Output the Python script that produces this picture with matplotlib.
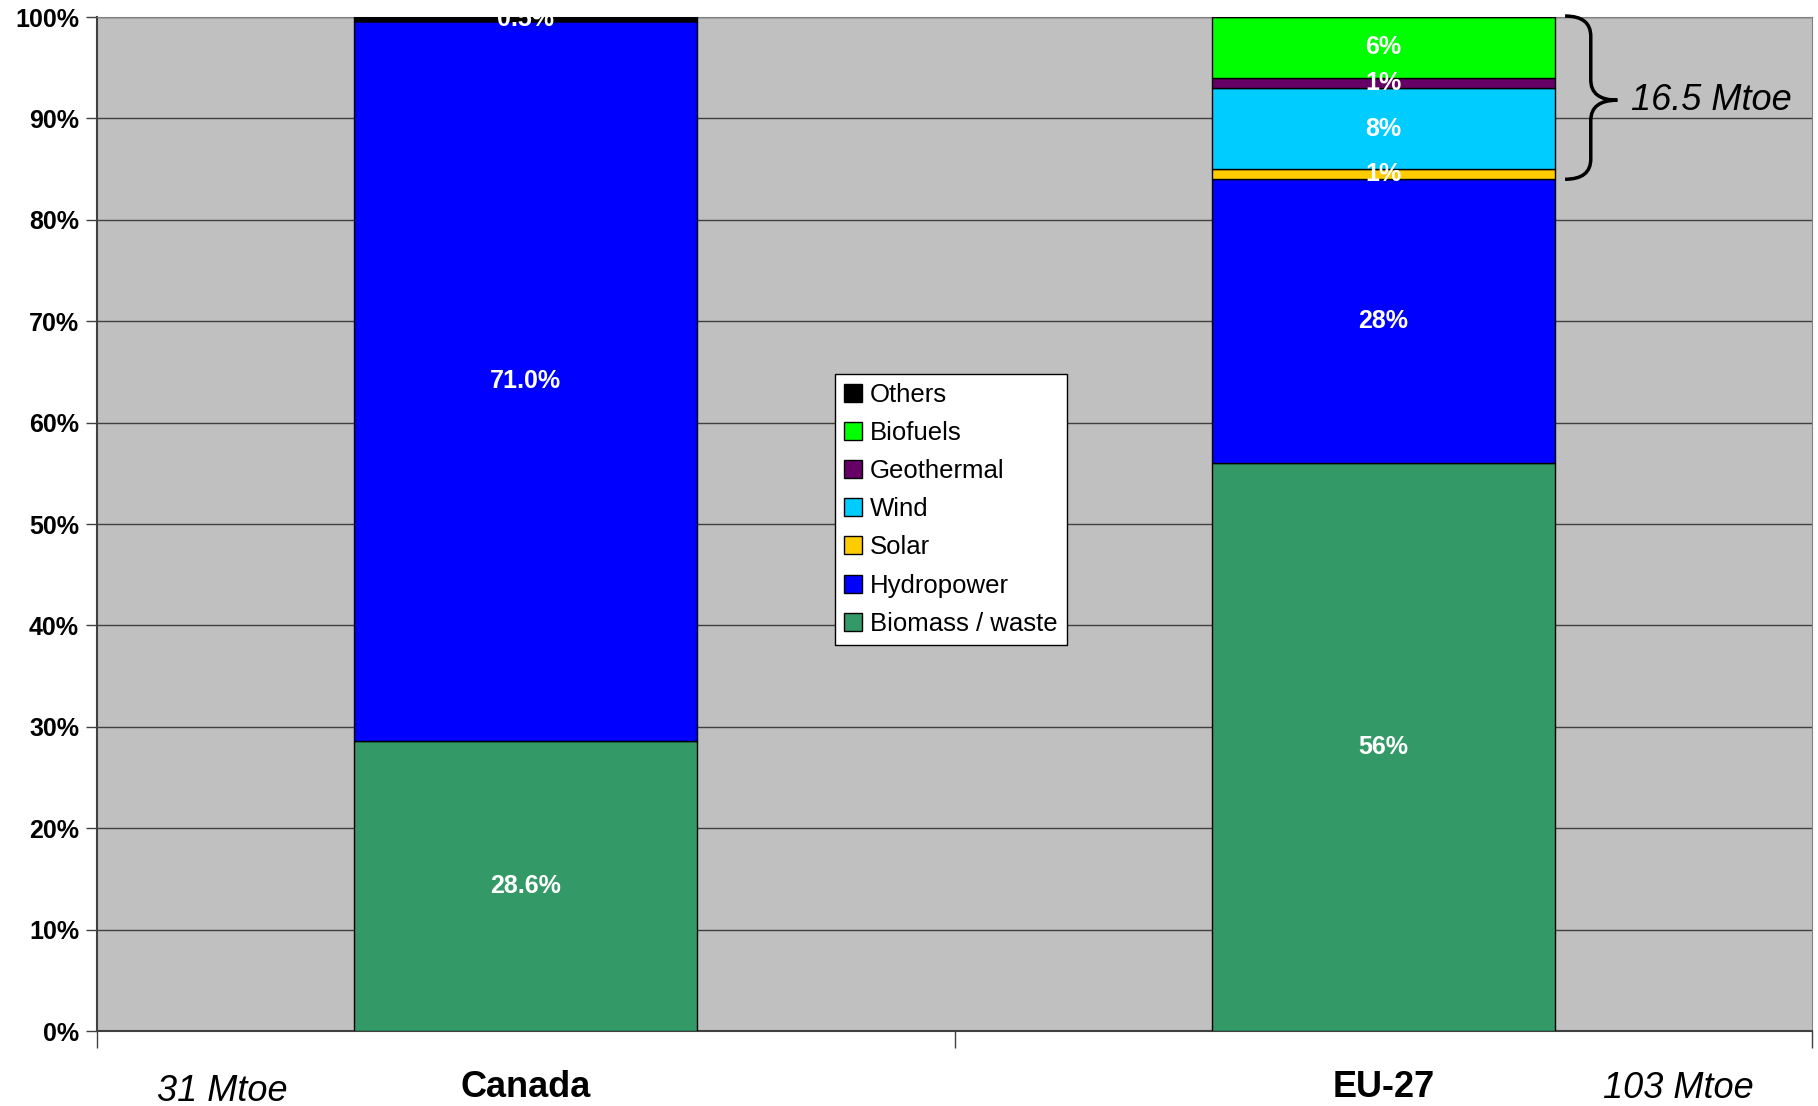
import matplotlib
matplotlib.use("Agg")
import matplotlib.pyplot as plt
from matplotlib.path import Path
from matplotlib.patches import PathPatch
import matplotlib.transforms as mtransforms

plt.rcParams['font.family'] = ['Liberation Sans', 'DejaVu Sans']

# Share of renewable primary energy by source (%)
regions = ['Canada', 'EU-27']
totals = ['31 Mtoe', '103 Mtoe']
sources = ['Biomass / waste', 'Hydropower', 'Solar', 'Wind', 'Geothermal', 'Biofuels', 'Others']
canada = [28.6, 71.0, 0, 0, 0, 0, 0.5]
eu27 = [56, 28, 1, 8, 1, 6, 0]
colors = ['#339966', '#0000FF', '#FFCC00', '#00CCFF', '#660066', '#00FF00', '#000000']
new_renew = '16.5 Mtoe'

fig = plt.figure(figsize=(18.18, 11.06), dpi=100)
ax = fig.add_axes([0.0534, 0.0678, 0.9433, 0.9168])
ax.set_facecolor('#C0C0C0')

x = [0, 1]
bottoms = [0, 0]
for i, src in enumerate(sources):
    vals = [canada[i], eu27[i]]
    ax.bar(x, vals, 0.4, bottom=bottoms, color=colors[i],
           edgecolor='black', linewidth=1, label=src, zorder=3)
    for j, v in enumerate(vals):
        if v > 0:
            txt = '{:.1f}%'.format(v) if j == 0 else '{:.0f}%'.format(v)
            ax.text(x[j], bottoms[j] + v / 2, txt, ha='center', va='center',
                    color='white', fontsize=18, fontweight='bold', zorder=5,
                    clip_on=True)
    bottoms = [bottoms[0] + vals[0], bottoms[1] + vals[1]]

ax.set_xlim(-0.5, 1.5)
ax.set_ylim(0, 100)
ax.set_yticks(range(0, 101, 10))
ax.set_yticklabels(['{}%'.format(v) for v in range(0, 101, 10)],
                   fontsize=18, fontweight='bold')
ax.yaxis.grid(True, color='#404040', linewidth=1, zorder=0)
ax.set_axisbelow(True)
ax.tick_params(axis='y', length=8, width=1, color='#404040', pad=5)

ax.set_xticks([-0.5, 0.5, 1.5])
ax.set_xticklabels([])
ax.tick_params(axis='x', length=12, width=1, color='#404040')
ax.set_xticks(x, minor=True)
ax.set_xticklabels(regions, minor=True, fontsize=26, fontweight='bold')
ax.tick_params(axis='x', which='minor', length=0, pad=28)

for side in ['top', 'right']:
    ax.spines[side].set_color('#808080')
for side in ['left', 'bottom']:
    ax.spines[side].set_color('#404040')
    ax.spines[side].set_linewidth(1.5)

# total energy under each bar
trans = mtransforms.blended_transform_factory(ax.transData, ax.transAxes)
ax.text(-0.354, -0.060, totals[0], transform=trans, ha='center', va='center',
        fontsize=26, style='italic')
ax.text(1.344, -0.057, totals[1], transform=trans, ha='center', va='center',
        fontsize=26, style='italic')

# brace around the new renewables in EU-27
top = 100.1
bot = sum(eu27[:2])
tip = 91.8
xl, xm, xt = 1.212, 1.242, 1.273
r = 2.0
verts = [(xl, top), (xm, top), (xm, top - r), (xm, tip + r), (xm, tip), (xt, tip),
         (xm, tip), (xm, tip - r), (xm, bot + r), (xm, bot), (xl, bot)]
codes = [Path.MOVETO, Path.CURVE3, Path.CURVE3, Path.LINETO, Path.CURVE3, Path.CURVE3,
         Path.CURVE3, Path.CURVE3, Path.LINETO, Path.CURVE3, Path.CURVE3]
ax.add_patch(PathPatch(Path(verts, codes), facecolor='none', edgecolor='black',
                       linewidth=2.5, clip_on=False, zorder=6))
ax.text(1.289, tip, new_renew, ha='left', va='center', fontsize=26, style='italic')

handles, labels = ax.get_legend_handles_labels()
leg = ax.legend(handles[::-1], labels[::-1], loc='upper left',
                bbox_to_anchor=(0.4305, 0.648), fontsize=18.5, frameon=True,
                fancybox=False, edgecolor='black', framealpha=1,
                handlelength=0.7, handleheight=0.7, handletextpad=0.3,
                labelspacing=0.55, borderpad=0.35, borderaxespad=0)
leg.get_frame().set_linewidth(1)

fig.savefig('out.png', dpi=100)
